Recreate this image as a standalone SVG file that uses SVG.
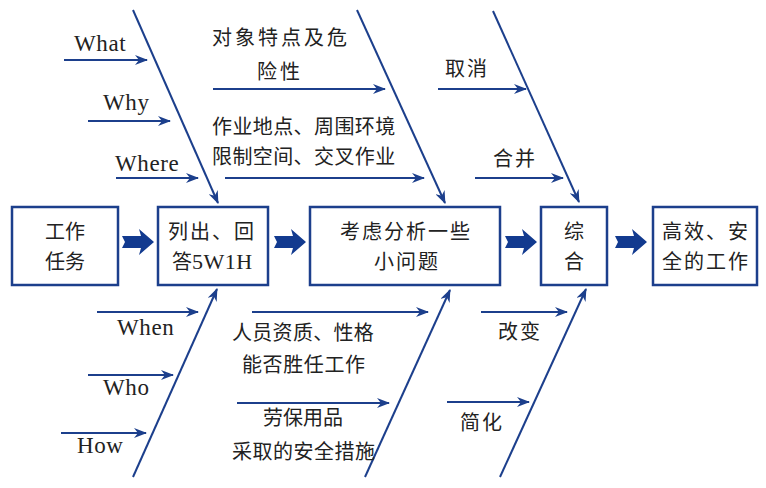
<svg xmlns="http://www.w3.org/2000/svg" width="766" height="488" viewBox="0 0 766 488">
<style>
.box{fill:#fff;stroke:#1c3f8c;stroke-width:2.5}
.ln{stroke:#1c3f8c;stroke-width:2;fill:none;marker-end:url(#ah)}
.blk{fill:#123a8f}
.cn{font-family:"Noto Sans CJK SC",sans-serif;font-size:20px;fill:#222}
.en{font-family:"Liberation Serif",serif;font-size:23px;fill:#222;letter-spacing:0.6px}
.c{text-anchor:middle}
</style>
<defs>
<marker id="ah" markerWidth="14" markerHeight="10" refX="12" refY="5" orient="auto" markerUnits="userSpaceOnUse">
<path d="M0,0 L13,5 L0,10 L4,5 Z" fill="#1c3f8c"/>
</marker>
<path id="blk" d="M0,-6 L19,-6 L17,-13 L32,0 L17,13 L19,6 L0,6 L3,0 Z"/>
</defs>
<rect width="766" height="488" fill="#fff"/>
<g id="connectors">
<line class="ln" x1="133" y1="10" x2="218" y2="203"/>
<line class="ln" x1="357" y1="10" x2="445" y2="203"/>
<line class="ln" x1="493" y1="11" x2="579" y2="202"/>
<line class="ln" x1="133" y1="477" x2="217" y2="289"/>
<line class="ln" x1="365" y1="477" x2="450" y2="290"/>
<line class="ln" x1="500" y1="477" x2="586" y2="289"/>
<line class="ln" x1="64" y1="60" x2="147" y2="60"/>
<line class="ln" x1="88" y1="121" x2="170" y2="121"/>
<line class="ln" x1="116" y1="178" x2="198" y2="178"/>
<line class="ln" x1="213" y1="89" x2="385" y2="89"/>
<line class="ln" x1="225" y1="178" x2="424" y2="178"/>
<line class="ln" x1="438" y1="89" x2="526" y2="89"/>
<line class="ln" x1="475" y1="178" x2="563" y2="178"/>
<line class="ln" x1="97" y1="312" x2="198" y2="312"/>
<line class="ln" x1="88" y1="375" x2="173" y2="375"/>
<line class="ln" x1="61" y1="433" x2="146" y2="433"/>
<line class="ln" x1="252" y1="312" x2="428" y2="312"/>
<line class="ln" x1="237" y1="403" x2="389" y2="403"/>
<line class="ln" x1="481" y1="312" x2="567" y2="312"/>
<line class="ln" x1="447" y1="402" x2="529" y2="402"/>
<use href="#blk" class="blk" x="122" y="242"/>
<use href="#blk" class="blk" x="274" y="242"/>
<use href="#blk" class="blk" x="505" y="242"/>
<use href="#blk" class="blk" x="615" y="242"/>
</g>
<g id="n1"><rect class="box" x="12" y="207" width="106" height="78"/>
<text class="cn" x="45" y="239">工作</text>
<text class="cn" x="45" y="269">任务</text></g>
<g id="n2"><rect class="box" x="158" y="207" width="110" height="78"/>
<text class="cn" x="168" y="239" letter-spacing="2">列出、回</text>
<text class="cn" x="172" y="269">答<tspan font-family="Liberation Serif" font-size="22" letter-spacing="0.5">5W1H</tspan></text></g>
<g id="n3"><rect class="box" x="310" y="207" width="190" height="78"/>
<text class="cn" x="340" y="239" letter-spacing="2">考虑分析一些</text>
<text class="cn" x="374" y="269" letter-spacing="2">小问题</text></g>
<g id="n4"><rect class="box" x="541" y="207" width="66" height="78"/>
<text class="cn c" x="574" y="239">综</text>
<text class="cn c" x="574" y="269">合</text></g>
<g id="n5"><rect class="box" x="653" y="207" width="104" height="78"/>
<text class="cn" x="662" y="239" letter-spacing="2">高效、安</text>
<text class="cn" x="662" y="269" letter-spacing="2">全的工作</text></g>
<g id="labels">
<text class="en" x="74" y="51">What</text>
<text class="en" x="103" y="110">Why</text>
<text class="en" x="115" y="171">Where</text>
<text class="en" x="117" y="335">When</text>
<text class="en" x="103" y="395">Who</text>
<text class="en" x="77" y="453">How</text>
<text class="cn" x="212" y="45" letter-spacing="3">对象特点及危</text>
<text class="cn" x="257" y="79" letter-spacing="3">险性</text>
<text class="cn" x="212" y="134" letter-spacing="0.4">作业地点、周围环境</text>
<text class="cn" x="212" y="164" letter-spacing="0.4">限制空间、交叉作业</text>
<text class="cn" x="445" y="76" letter-spacing="2">取消</text>
<text class="cn" x="493" y="166" letter-spacing="2">合并</text>
<text class="cn" x="232" y="340" letter-spacing="0.3">人员资质、性格</text>
<text class="cn" x="242" y="372" letter-spacing="0.6">能否胜任工作</text>
<text class="cn" x="263" y="425">劳保用品</text>
<text class="cn" x="232" y="459" letter-spacing="0.5">采取的安全措施</text>
<text class="cn" x="498" y="339" letter-spacing="2">改变</text>
<text class="cn" x="460" y="430" letter-spacing="2">简化</text>
</g>
</svg>
